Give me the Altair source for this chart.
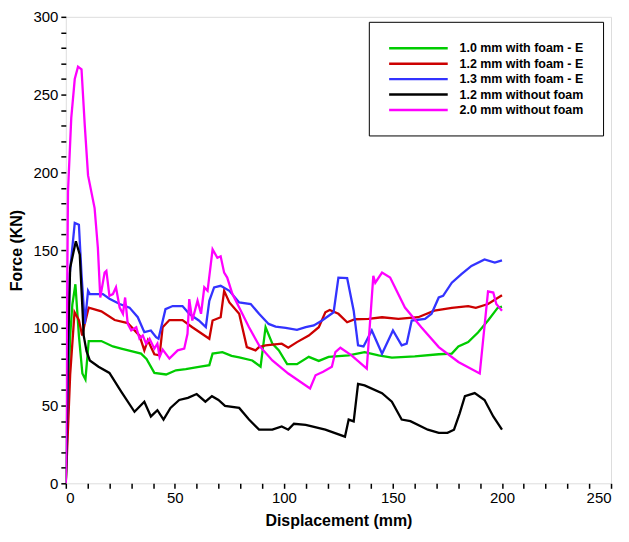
import altair as alt
import pandas as pd

series_names = ["1.0 mm with foam - E", "1.2 mm with foam - E", "1.3 mm with foam - E",
                "1.2 mm without foam", "2.0 mm without foam"]
series_colors = ["#00cc00", "#cc0000", "#3333ff", "#000000", "#ff00ff"]

g_x = [0, 1, 2, 3, 4.4, 6, 7.6, 9, 10.5, 16.3, 21.6, 25.4, 30, 34.5, 37, 40.6, 46, 50.5, 55, 61, 65.8, 67.3, 71.8, 76, 79.5, 85.5, 89.3, 91.6, 94.7, 97.7, 101.5, 106, 111.4, 116, 120.5, 129.7, 137, 143.4, 149.5, 160, 171, 177, 180, 184.5, 189, 193.6, 198, 200]
g_y = [0, 50, 95, 115, 128, 95, 70.6, 66.8, 91.5, 91.5, 88, 86.6, 85, 83.4, 80, 71, 70, 72.7, 73.5, 74.9, 76, 83.4, 84.4, 82, 81, 79, 75, 100.4, 89.8, 85.5, 76.6, 76.6, 81.3, 78.7, 81.3, 82.3, 84.4, 82.3, 80.8, 81.7, 83, 83.4, 88, 90.8, 97, 104.7, 112.8, 113.6]

r_x = [0, 2, 4, 6, 7.5, 8.7, 10.5, 16.3, 22.4, 28.4, 33.8, 36, 37.6, 40.6, 43, 44.4, 47.5, 53.5, 58, 65.8, 67.3, 71, 72.6, 75, 79.5, 83, 87, 88.6, 91.6, 99, 102, 106, 111.4, 116, 119, 121, 125, 129, 132.6, 138.8, 145, 152.5, 161.6, 169, 177, 184.5, 188, 193.6, 200]
r_y = [0, 70, 110, 105, 95, 102.7, 113, 110.6, 105, 103, 95, 85.5, 92, 83, 82.3, 100.4, 105, 105, 100.4, 93, 104.7, 106.8, 123.8, 116.3, 109, 87.6, 85.5, 87.6, 88.7, 89.8, 87.2, 90.8, 95, 100.4, 110, 111.5, 109, 103.6, 105.5, 105.7, 106.8, 105.7, 106.8, 111, 112.8, 114, 112.8, 115.3, 121]

b_x = [0, 1.8, 4.1, 6, 7.2, 8.7, 10.2, 11, 17, 20, 24.7, 29.2, 33, 36, 39, 41.4, 42.5, 45.7, 49, 53.5, 56.6, 61, 64.2, 65.8, 68, 71, 75, 79.5, 84.8, 88.6, 93, 96.2, 100.8, 106, 110, 113.7, 117.5, 122.8, 125, 129, 132, 134, 136.5, 140.3, 145, 150, 154, 156.3, 158.6, 164.7, 167.7, 171, 173, 177, 181.4, 186, 192, 196.7, 200]
b_y = [0, 134.6, 167.4, 166.3, 134.6, 102.5, 123.8, 121.7, 121.7, 118.7, 115.3, 113, 106.8, 97.2, 98.3, 94, 93, 112, 114, 114, 109, 104.7, 100.4, 117.4, 126, 127, 123.8, 116.3, 115.3, 109, 102.5, 100.8, 100, 98.7, 100.4, 101.5, 104.7, 110, 132.3, 132, 111, 88.7, 88, 98.3, 83.4, 98.3, 88.7, 89.8, 104.7, 105.7, 109, 119.5, 120.6, 129, 134.5, 139.8, 144, 141.9, 143.4]

k_x = [0, 1, 2, 4.6, 6.4, 7.6, 8.2, 9.5, 11, 15, 20, 25.4, 31.5, 36, 39, 42, 44.8, 48, 52, 56, 60, 64, 67, 70, 73, 79.5, 84, 88.6, 94.7, 99, 102, 104.6, 110, 119, 128, 129.7, 132, 134, 137, 145, 149.5, 154, 158, 166, 171, 175, 178, 180.6, 183, 187.5, 192, 196, 200]
k_y = [0, 90, 138.7, 155.7, 147, 113, 95, 85, 79, 75, 71, 59, 46, 52.5, 43, 47, 41, 48.5, 53.6, 55, 57.4, 52.5, 56, 53.6, 49.8, 48.5, 41, 34.5, 34.5, 36.6, 34.5, 38.3, 37.6, 34.5, 30, 41, 39.8, 64, 63, 58, 52.5, 41, 40, 34.5, 32.4, 32.5, 34.5, 45, 56, 58, 53.6, 43, 34.5]

m_x = [0, 0.5, 1, 2.5, 4.1, 5.6, 7.2, 8.7, 10.2, 13.2, 14.7, 15.8, 17.8, 18.6, 20, 21.6, 23, 24.7, 26.2, 27.2, 28.4, 30, 32.3, 33.8, 35.3, 36.8, 38.4, 40.6, 42, 43, 44.4, 47.5, 51.3, 54.3, 55.8, 56.6, 58, 60.4, 62, 63.5, 65, 67.3, 69.5, 71, 72.6, 74, 76.4, 79.5, 84, 88.6, 94.7, 102, 112, 114.5, 118, 122, 123.6, 125.9, 131, 138, 141, 141.9, 145, 148.7, 155.5, 163, 171, 180, 189.8, 193.6, 196, 197.4, 200]
m_y = [0, 100, 187.6, 235, 260, 268, 266.3, 230, 198, 177, 151.5, 119.5, 135.5, 136.6, 120.6, 121.7, 126, 113, 109, 119.5, 102.5, 98.3, 100.4, 93, 95, 89.8, 93, 86.6, 89.8, 81.3, 86, 80.2, 85.5, 86.6, 96.2, 118.5, 104.7, 117.4, 109, 126, 123.8, 150.4, 145, 146, 135.5, 132.3, 121.7, 113, 100.4, 88.7, 79, 70.6, 61, 69.5, 71.7, 74.9, 84.4, 87.2, 82.3, 73.8, 133.4, 129, 135.5, 132.3, 113, 100.4, 87.6, 78, 70.6, 123.4, 122.7, 115.3, 111]

x_ticks = list(range(0, 251, 10))
y_ticks = list(range(0, 301, 10))

rows = []
for i, (name, xs, ys) in enumerate(zip(series_names, [g_x, r_x, b_x, k_x, m_x], [g_y, r_y, b_y, k_y, m_y])):
    for j, (xv, yv) in enumerate(zip(xs, ys)):
        rows.append({"series": name, "order": i, "idx": j, "x": xv, "y": yv})
df = pd.DataFrame(rows)

W, H = 547, 468
font = "Liberation Sans"
label_expr = "datum.value % 50 === 0 ? datum.label : ''"

chart = alt.Chart(df).mark_line(strokeWidth=2.3, clip=True).encode(
    x=alt.X("x:Q", scale=alt.Scale(domain=[0, 250], nice=False),
            axis=alt.Axis(values=x_ticks, labelExpr=label_expr, title="Displacement (mm)",
                          ticks=True, tickSize=5, tickColor="black", tickWidth=1.5,
                          labelPadding=2, grid=False, domain=False,
                          labelFont=font, labelFontSize=15, labelColor="black",
                          titleFont=font, titleFontSize=16, titleFontWeight="bold",
                          titleColor="black", titlePadding=7)),
    y=alt.Y("y:Q", scale=alt.Scale(domain=[0, 300], nice=False),
            axis=alt.Axis(values=y_ticks, labelExpr=label_expr, title="Force (KN)",
                          ticks=True, tickSize=5, tickColor="black", tickWidth=1.5,
                          labelPadding=3, grid=False, domain=False,
                          labelFont=font, labelFontSize=15, labelColor="black",
                          titleFont=font, titleFontSize=16, titleFontWeight="bold",
                          titleColor="black", titlePadding=8)),
    color=alt.Color("series:N", scale=alt.Scale(domain=series_names, range=series_colors),
                    legend=alt.Legend(title=None, orient="none", legendX=304, legendY=5,
                                      strokeColor="black", padding=19, fillColor="white",
                                      symbolType="M-1,0H8.6", symbolSize=150, symbolStrokeWidth=2.5,
                                      symbolFillColor="transparent",
                                      labelFont=font, labelFontSize=12.5, labelFontWeight="bold",
                                      labelColor="black", labelOffset=57, rowPadding=1.5)),
    order="idx:Q",
    detail="series:N",
).properties(
    width=W, height=H,
    autosize=alt.AutoSizeParams(type="none"),
    padding={"left": 58, "top": 8, "right": 10, "bottom": 50},
).configure_view(stroke="black", strokeWidth=2.5).configure(background="white")

chart.save("out.html", embed_options={"renderer": "svg", "actions": False})
